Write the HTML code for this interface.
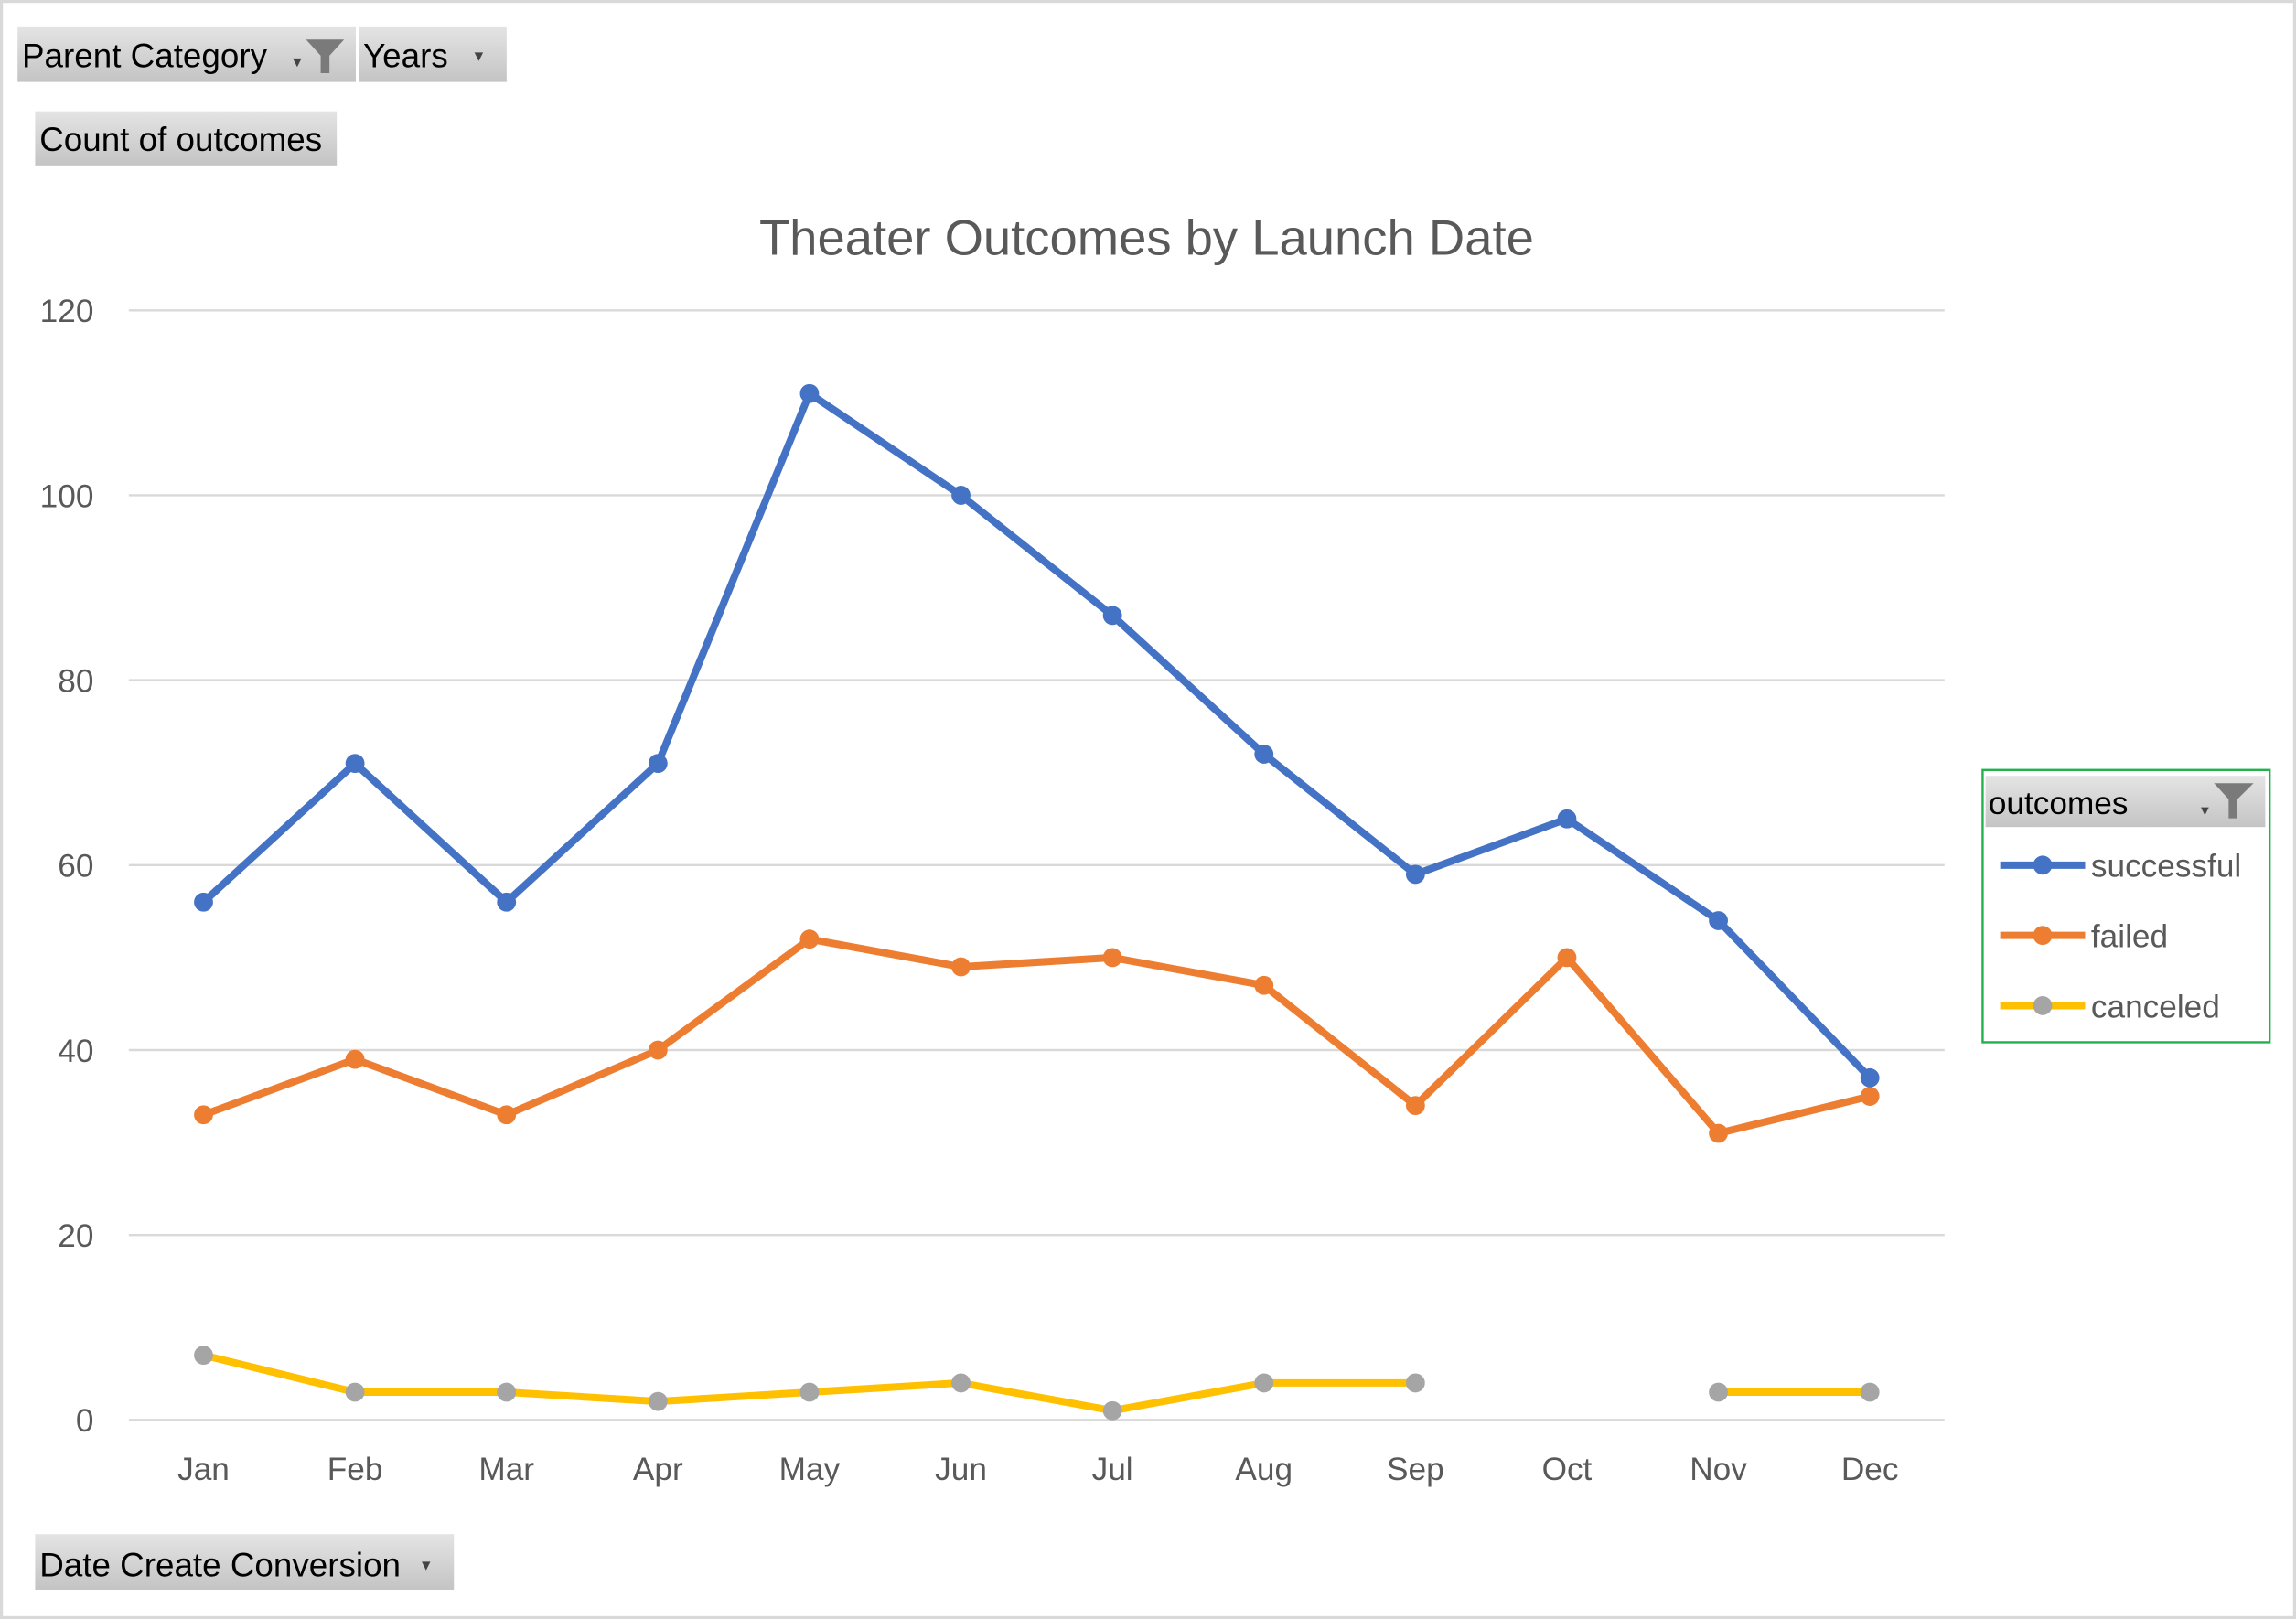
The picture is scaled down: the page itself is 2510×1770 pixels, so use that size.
<!DOCTYPE html>
<html><head><meta charset="utf-8"><style>
html,body{margin:0;padding:0;background:#fff;}
svg{display:block;}
text{font-family:"Liberation Sans",sans-serif;}
</style></head><body>
<svg id="c" width="2510" height="1770" viewBox="0 0 1568 1106" preserveAspectRatio="none" xmlns="http://www.w3.org/2000/svg">
<defs>
<linearGradient id="btn" x1="0" y1="0" x2="0" y2="1"><stop offset="0" stop-color="#e4e4e4"/><stop offset="1" stop-color="#c4c4c4"/></linearGradient>
</defs>
<rect x="1" y="1" width="1566" height="1104" fill="#fff" stroke="#d9d9d9" stroke-width="2"/>
<g>
<rect x="12" y="18" width="231" height="38" fill="url(#btn)"/>
<text x="15" y="46" font-size="23" fill="#000">Parent Category</text>
<text x="200" y="46" font-size="12" fill="#444">▾</text>
<path d="M209 27 H235 L225 38 V50 H219 V38 Z" fill="#7a7a7a"/>
</g>
<g>
<rect x="245" y="18" width="101" height="38" fill="url(#btn)"/>
<text x="248" y="46" font-size="23" fill="#000">Years</text>
<text x="324" y="42" font-size="12" fill="#444">▾</text>
</g>
<g>
<rect x="24" y="76" width="206" height="37" fill="url(#btn)"/>
<text x="27" y="103" font-size="23" fill="#000">Count of outcomes</text>
</g>
<g>
<rect x="24" y="1048" width="286" height="38" fill="url(#btn)"/>
<text x="27" y="1077" font-size="23" fill="#000">Date Create Conversion</text>
<text x="288" y="1073" font-size="12" fill="#444">▾</text>
</g>
<text x="783" y="174" font-size="34" fill="#595959" text-anchor="middle">Theater Outcomes by Launch Date</text>
<g id="grid"></g><g id="series"></g>
<g>
<rect x="1354" y="526" width="196" height="186" fill="#fff" stroke="#22b14c" stroke-width="1.5"/>
<g>
<rect x="1356" y="530" width="191" height="35" fill="url(#btn)"/>
<text x="1358" y="556" font-size="22" fill="#000">outcomes</text>
<text x="1503" y="557" font-size="11" fill="#444">▾</text>
<path d="M1512 535 H1539 L1528 546 V559 H1522 V546 Z" fill="#7a7a7a"/>
</g>
<g><line x1="1366" y1="591" x2="1424" y2="591" stroke="#4472c4" stroke-width="5"/><circle cx="1395" cy="591" r="6.5" fill="#4472c4"/><text x="1428" y="599" font-size="22" fill="#595959">successful</text></g>
<g><line x1="1366" y1="639" x2="1424" y2="639" stroke="#ed7d31" stroke-width="5"/><circle cx="1395" cy="639" r="6.5" fill="#ed7d31"/><text x="1428" y="647" font-size="22" fill="#595959">failed</text></g>
<g><line x1="1366" y1="687" x2="1424" y2="687" stroke="#ffc000" stroke-width="5"/><circle cx="1395" cy="687" r="6.5" fill="#a5a5a5"/><text x="1428" y="695" font-size="22" fill="#595959">canceled</text></g>
</g>
</svg>
<script>
const months = ["Jan","Feb","Mar","Apr","May","Jun","Jul","Aug","Sep","Oct","Nov","Dec"];
const successful = [56,71,56,71,111,100,87,72,59,65,54,37];
const failed = [33,39,33,40,52,49,50,47,34,50,31,35];
const canceled = [7,3,3,2,3,4,1,4,4,null,3,3];
const yTicks = [0,20,40,60,80,100,120];
const NS="http://www.w3.org/2000/svg";
const x0=139,x1=1277,yTop=212,yBot=970,yMax=120;
const xs=i=>x0+(x1-x0)*i/(months.length-1);
const ys=v=>yBot-(yBot-yTop)*v/yMax;
function mk(t,a,p){const e=document.createElementNS(NS,t);for(const k in a)e.setAttribute(k,a[k]);p.appendChild(e);return e;}
const grid=document.getElementById('grid');
yTicks.forEach(v=>{
  const l=mk('line',{x1:88,x2:1328,y1:ys(v),y2:ys(v),stroke:'#d9d9d9','stroke-width':1.5},grid);
  
  
  const t=mk('text',{x:64,y:ys(v)+8,'font-size':22,fill:'#595959','text-anchor':'end'},grid);
  t.textContent=v;
  
  
});
months.forEach((m,i)=>{
  const t=mk('text',{x:xs(i),y:1011,'font-size':22,fill:'#595959','text-anchor':'middle'},grid);
  t.textContent=m;
  
  
});
const sg=document.getElementById('series');
function draw(name,data,lc,mc){
  const g=mk('g',{},sg);
  
  
  let d='',pen=false;
  data.forEach((v,i)=>{if(v==null){pen=false;return;}d+=(pen?'L':'M')+xs(i)+' '+ys(v)+' ';pen=true;});
  const p=mk('path',{d:d,fill:'none',stroke:lc,'stroke-width':5,'stroke-linejoin':'round'},g);
  
  
  data.forEach((v,i)=>{if(v==null)return;
    const c=mk('circle',{cx:xs(i),cy:ys(v),r:6.5,fill:mc},g);
    
    
  });
}
draw('canceled',canceled,'#ffc000','#a5a5a5');
draw('failed',failed,'#ed7d31','#ed7d31');
draw('successful',successful,'#4472c4','#4472c4');
</script>
</body></html>
